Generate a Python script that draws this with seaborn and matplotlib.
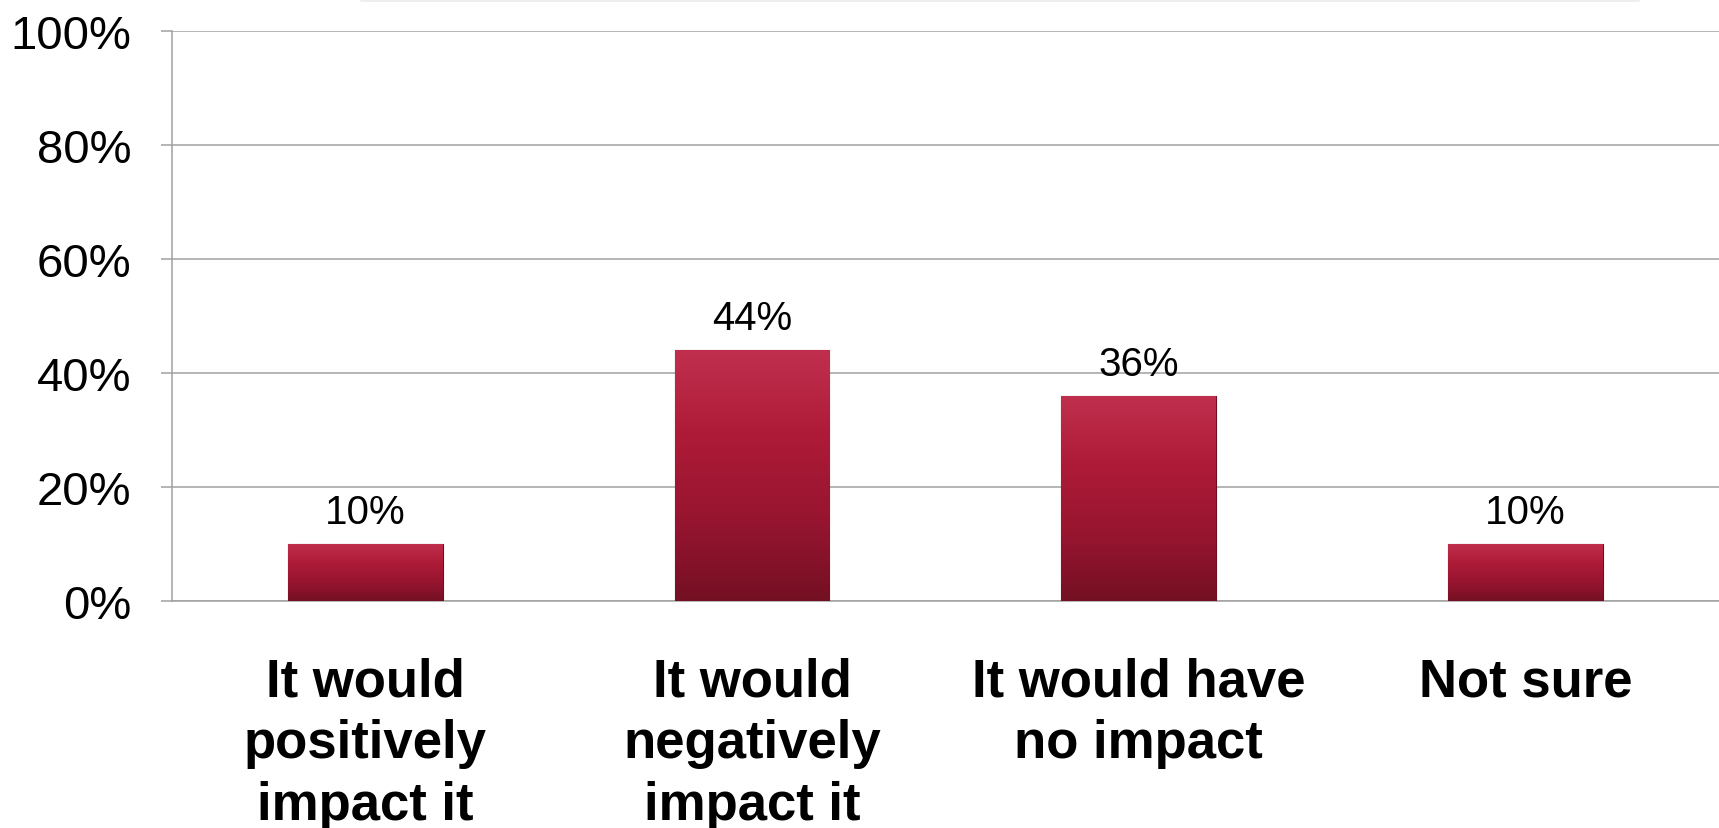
import numpy as np
import pandas as pd
import seaborn as sns
import matplotlib.pyplot as plt
from matplotlib.colors import LinearSegmentedColormap
from matplotlib.lines import Line2D

# data
categories = ['It would\npositively\nimpact it', 'It would\nnegatively\nimpact it',
              'It would have\nno impact', 'Not sure']
values = [10, 44, 36, 10]
y_ticks = [0, 20, 40, 60, 80, 100]

df = pd.DataFrame({'answer': categories, 'pct': values})

sns.set_theme(style='white')
plt.rcParams['font.family'] = ['Liberation Sans', 'DejaVu Sans']

fig = plt.figure(figsize=(17.19, 8.29), dpi=100)
ax = fig.add_axes([0.1, 0.274, 0.9, 0.688])

grid_col = '#a0a0a0'
sns.barplot(data=df, x='answer', y='pct', color='#9b1530', width=0.4,
            edgecolor='#6e0c20', linewidth=0.8, ax=ax, zorder=3)

# vertical gradient inside each bar
cmap = LinearSegmentedColormap.from_list('bar', ['#741023', '#981530', '#ae1b38', '#c0304e'])
grad = np.linspace(0, 1, 256).reshape(-1, 1)
for p in ax.patches:
    x0, y0 = p.get_x(), p.get_y()
    w, h = p.get_width(), p.get_height()
    im = ax.imshow(grad, cmap=cmap, origin='lower', aspect='auto',
                   extent=[x0, x0 + w, y0, y0 + h], zorder=3.5)
    im.set_clip_path(p)
    ax.annotate(f'{h:.0f}%', (x0 + w / 2, y0 + h), xytext=(0, 9),
                textcoords='offset points', ha='center', va='bottom',
                fontsize=29, color='black')

ax.set_xlim(-0.5, 3.5)
ax.set_ylim(0, 100)
ax.set_yticks(y_ticks)
ax.set_yticklabels([f'{t}%' for t in y_ticks])
ax.yaxis.grid(True, color=grid_col, linewidth=1.1, zorder=0)
ax.set_axisbelow(True)

ax.set_xticks(range(len(categories)))
ax.set_xticklabels(categories, fontsize=38, fontweight='bold', linespacing=1.3)
ax.set_xticks(np.arange(-0.5, len(categories), 1), minor=True)
ax.tick_params(axis='x', which='major', length=0, pad=40, colors='black')
ax.tick_params(axis='x', which='minor', length=11, width=1.1, color=grid_col, direction='out')
ax.tick_params(axis='y', length=8, width=1.1, color=grid_col, direction='out',
               pad=21, labelsize=34, labelcolor='black', left=True)

ax.set_xlabel('')
ax.set_ylabel('')
for s in ['top', 'right']:
    ax.spines[s].set_visible(False)
for s in ['left', 'bottom']:
    ax.spines[s].set_color(grid_col)
    ax.spines[s].set_linewidth(1.1)

# faint line at the very top of the slide
fig.add_artist(Line2D([0.21, 0.953], [0.999, 0.999], color='#eeeeee', linewidth=2))

fig.savefig('out.png', dpi=100)
